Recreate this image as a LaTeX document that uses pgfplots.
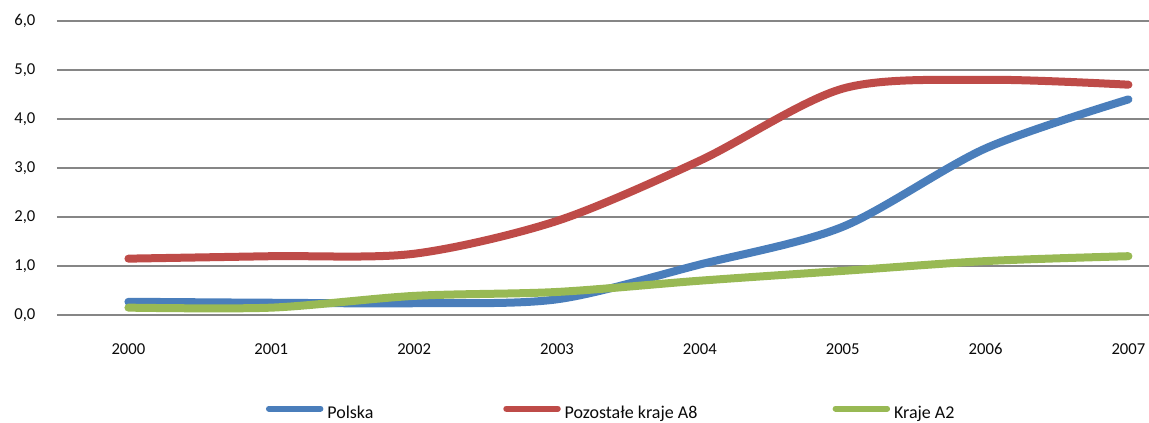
\documentclass[border=0pt]{standalone}
\usepackage{pgfplots}
\pgfplotsset{compat=1.18}
\usepackage{fontspec}
\setmainfont{Carlito}

\definecolor{serBlue}{RGB}{74,126,187}
\definecolor{serRed}{RGB}{190,75,72}
\definecolor{serGreen}{RGB}{152,185,84}
\definecolor{gridGray}{RGB}{134,134,134}
\definecolor{txt}{RGB}{10,10,10}

\begin{document}
\begin{tikzpicture}
\begin{axis}[
  scale only axis,
  width=819pt, height=220.5pt,
  xmin=-0.5, xmax=7.144,
  ymin=0, ymax=6,
  xtick={0,...,7},
  xticklabels={2000,2001,2002,2003,2004,2005,2006,2007},
  ytick={0,1,...,6},
  major tick length=0pt,
  axis line style={draw=none},
  ymajorgrids,
  grid style={gridGray, line width=0.8pt},
  tick label style={font=\fontsize{12.5}{15}\selectfont, text=txt},
  yticklabel style={anchor=east, inner sep=0pt, xshift=-16pt,
    /pgf/number format/.cd, fixed, fixed zerofill, precision=1, use comma, assume math mode=true},
  xticklabel style={anchor=north, inner sep=0pt, yshift=-21pt},
  clip=false,
  legend columns=3,
  legend style={draw=none, fill=none, inner sep=0pt, row sep=0pt,
    at={(0.1875,-0.333)}, anchor=west,
    font=\fontsize{13.5}{16}\selectfont, text=txt,
    nodes={inner sep=0pt},
    /tikz/every odd column/.append style={column sep=0pt},
    /tikz/every even column/.append style={column sep=0pt}},
  legend image code/.code={%
    \path (0pt,0pt) (43pt,0pt);
    \draw[#1, line width=4.5pt, line cap=round] (2.2pt,0.32em) -- (40.8pt,0.32em);},
  every axis plot/.append style={line width=6pt, line cap=round, line join=round, smooth},
]
% Polska
\addplot[serBlue] coordinates {(0,0.27) (1,0.25) (2,0.24) (3,0.32) (4,1.03) (5,1.80) (6,3.40) (7,4.40)};
\addlegendentry{\makebox[129pt][l]{Polska}}
% Pozostałe kraje A8
\addplot[serRed] coordinates {(0,1.15) (1,1.20) (2,1.25) (3,1.92) (4,3.15) (5,4.62) (6,4.80) (7,4.70)};
\addlegendentry{\makebox[198pt][l]{Pozostałe kraje A8}}
% Kraje A2
\addplot[serGreen] coordinates {(0,0.15) (1,0.15) (2,0.39) (3,0.47) (4,0.70) (5,0.90) (6,1.10) (7,1.20)};
\addlegendentry{Kraje A2}
\end{axis}
\pgfresetboundingbox
\path (-42.75pt,-81pt) rectangle (819pt,236.25pt);
\end{tikzpicture}
\end{document}
